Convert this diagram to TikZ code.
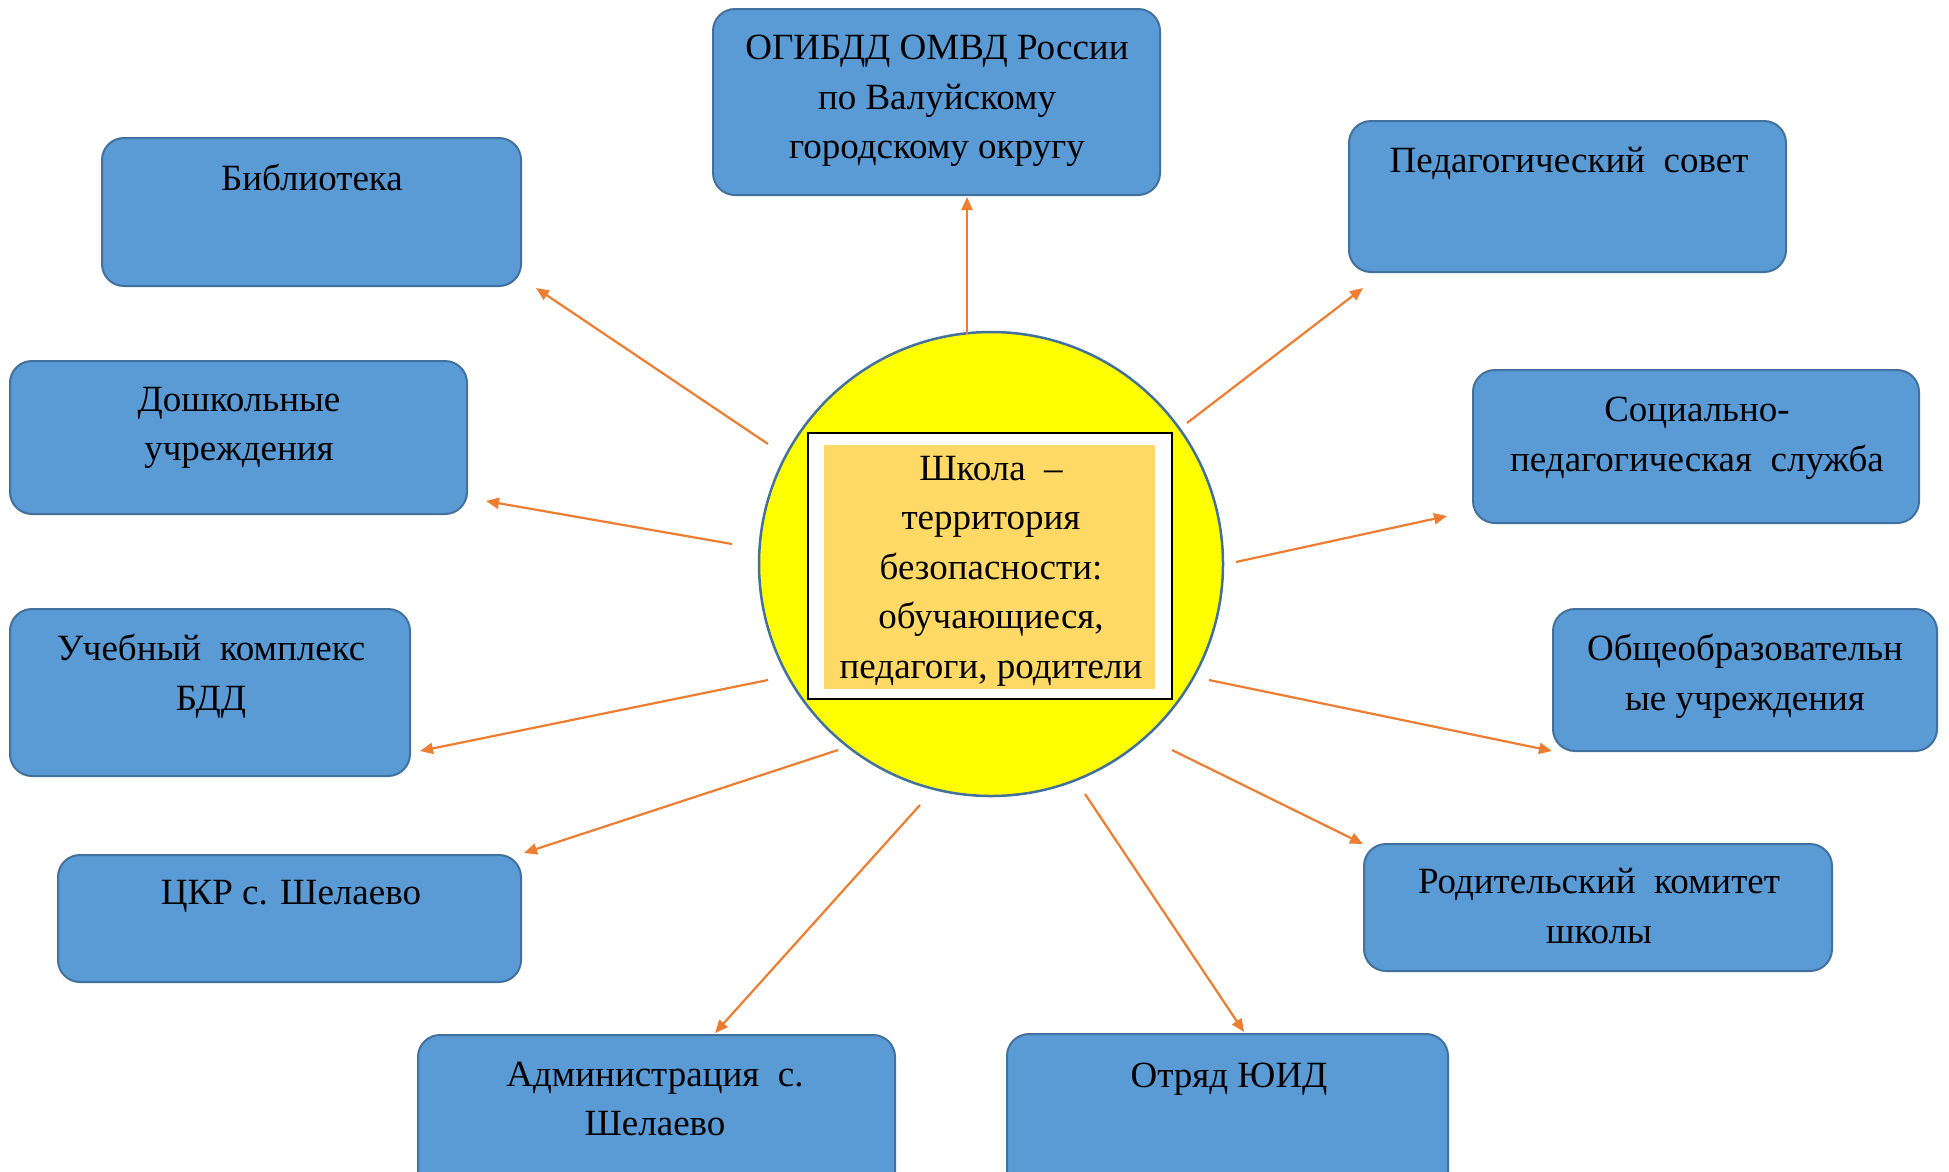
\documentclass[tikz,border=0pt]{standalone}
\usepackage{fontspec}
\setmainfont{Liberation Serif}
\usetikzlibrary{arrows.meta,calc}
\definecolor{boxfill}{HTML}{5B9BD5}
\definecolor{boxline}{HTML}{41719C}
\definecolor{arrcol}{HTML}{ED7D31}
\definecolor{sunfill}{HTML}{FFFF00}
\definecolor{innerfill}{HTML}{FFD966}
\tikzset{
  bluebox/.style={draw=boxline, fill=boxfill, line width=2pt, rounded corners=22pt, inner sep=0pt},
  txt/.style={align=center, inner sep=0pt, font=\fontsize{37}{49.5}\selectfont},
  arr/.style={draw=arrcol, line width=2.2pt, -{Triangle[length=13pt,width=11pt]}},
}
\begin{document}
\begin{tikzpicture}[x=1pt,y=-1pt]
\useasboundingbox (0,0) rectangle (1949,1171);
\clip (0,0) rectangle (1949,1171);
\fill[white] (0,0) rectangle (1949,1171);
% centre
\node[circle, draw=boxline, fill=sunfill, line width=2.5pt, minimum size=464pt, inner sep=0pt] (c) at (991,564) {};
\node[draw=black, fill=white, line width=2pt, minimum width=364pt, minimum height=266pt, inner sep=0pt] (wr) at (990,566) {};
\node[fill=innerfill, minimum width=331pt, minimum height=244pt, inner sep=0pt] (ir) at (989.5,567) {};
\node[txt] (ct) at (991,571) {Школа \ –\\территория\\безопасности:\\обучающиеся,\\педагоги, родители};
% boxes
\node[bluebox, minimum width=447pt, minimum height=186pt] (b1) at (936.5,102) {};
\node[txt] (t1) at (937,101) {ОГИБДД ОМВД России\\по Валуйскому\\городскому округу};
\node[bluebox, minimum width=419pt, minimum height=148pt] (b2) at (311.5,212) {};
\node[txt] (t2) at (312,177) {Библиотека};
\node[bluebox, minimum width=437pt, minimum height=151pt] (b11) at (1567.5,196.5) {};
\node[txt] (t11) at (1569,163) {Педагогический \ совет};
\node[bluebox, minimum width=457pt, minimum height=153pt] (b3) at (238.5,437.5) {};
\node[txt] (t3) at (239,428) {Дошкольные\\учреждения};
\node[bluebox, minimum width=446pt, minimum height=153pt] (b10) at (1696,446.5) {};
\node[txt] (t10) at (1697,438) {Социально-\\педагогическая \ служба};
\node[bluebox, minimum width=400pt, minimum height=167pt] (b4) at (210,692.5) {};
\node[txt] (t4) at (211,676) {Учебный \ комплекс\\БДД};
\node[bluebox, minimum width=384pt, minimum height=142pt] (b9) at (1745,680) {};
\node[txt] (t9) at (1745,676) {Общеобразовательн\\ые учреждения};
\node[bluebox, minimum width=463pt, minimum height=127pt] (b5) at (289.5,918.5) {};
\node[txt] (t5) at (291,896) {ЦКР с. Шелаево};
\node[bluebox, minimum width=468pt, minimum height=127pt] (b8) at (1598,907.5) {};
\node[txt] (t8) at (1599,906) {Родительский \ комитет\\школы};
\node[bluebox, minimum width=477pt, minimum height=160pt] (b6) at (656.5,1115) {};
\node[txt] (t6) at (655,1099) {Администрация \ с.\\Шелаево};
\node[bluebox, minimum width=441pt, minimum height=160pt] (b7) at (1227.5,1114) {};
\node[txt] (t7) at (1229,1079) {Отряд ЮИД};
% arrows
\draw[arr] ($(c.center)+(-24,-230)$) -- ($(b1.south)+(30.5,1)$);
\draw[arr] ($(c.center)+(-223,-120)$) -- ($(b2.south east)+(14,1)$);
\draw[arr] ($(c.center)+(-259,-20)$) -- ($(b3.south east)+(18,-14)$);
\draw[arr] ($(c.center)+(-223,116)$) -- ($(b4.south east)+(9,-26)$);
\draw[arr] ($(c.center)+(-153,186)$) -- ($(b5.north east)+(2,-1)$);
\draw[arr] ($(c.center)+(-71,241)$) -- ($(b6.north)+(58.5,-1)$);
\draw[arr] ($(c.center)+(94,230)$) -- ($(b7.north)+(16.5,-1)$);
\draw[arr] ($(c.center)+(181,186)$) -- ($(b8.north west)+(0,1)$);
\draw[arr] ($(c.center)+(218,116)$) -- ($(b9.south west)+(0,-1)$);
\draw[arr] ($(c.center)+(245,-2)$) -- ($(b10.south west)+(-25,-8)$);
\draw[arr] ($(c.center)+(196,-141)$) -- ($(b11.south west)+(15,15)$);
\end{tikzpicture}
\end{document}
